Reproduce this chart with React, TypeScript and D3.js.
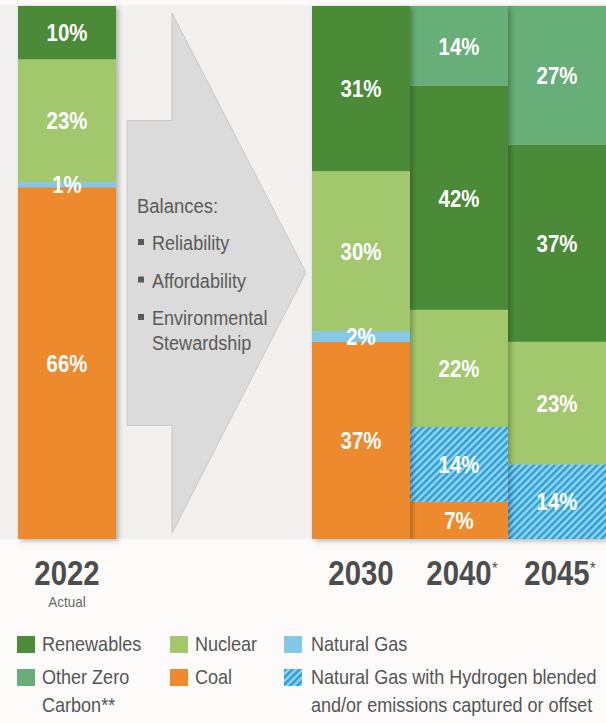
import React from "react";
import * as d3 from "d3";

// ---- data ----
const years = ["2022", "2030", "2040", "2045"];
const yearSuffix = ["", "", "*", "*"];
const coal = [66, 37, 7, 0];
const gasHydrogen = [0, 0, 14, 14];
const naturalGas = [1, 2, 0, 0];
const nuclear = [23, 30, 22, 23];
const renewables = [10, 31, 42, 37];
const otherZeroCarbon = [0, 0, 14, 27];

const arrowTitle = "Balances:";
const arrowBullets = [["Reliability"], ["Affordability"], ["Environmental", "Stewardship"]];

const keys = ["coal", "gasHydrogen", "naturalGas", "nuclear", "renewables", "otherZeroCarbon"];
const colors: Record<string, string> = {
  renewables: "#4c8b37",
  nuclear: "#a2c76d",
  naturalGas: "#84c8e8",
  otherZeroCarbon: "#68ae78",
  coal: "#ee8a2d",
  gasHydrogen: "url(#hatch)",
};

const legendRows = [
  [
    { key: "renewables", lines: ["Renewables"] },
    { key: "nuclear", lines: ["Nuclear"] },
    { key: "naturalGas", lines: ["Natural Gas"] },
  ],
  [
    { key: "otherZeroCarbon", lines: ["Other Zero", "Carbon**"] },
    { key: "coal", lines: ["Coal"] },
    { key: "gasHydrogen", lines: ["Natural Gas with Hydrogen blended", "and/or emissions captured or offset"] },
  ],
];

const W = 606;
const H = 723;
const font = "'Liberation Sans', Arial, sans-serif";

// condensed text: Liberation Sans squeezed horizontally
function CText(props: {
  x: number;
  y: number;
  sx: number;
  size: number;
  bold?: boolean;
  anchor?: string;
  fill?: string;
  dy?: string;
  children: React.ReactNode;
}) {
  const { x, y, sx, size, bold, anchor, fill, dy, children } = props;
  return (
    <g transform={`translate(${x},${y}) scale(${sx},1)`}>
      <text
        x={0}
        y={0}
        dy={dy}
        fontFamily={font}
        fontSize={size}
        fontWeight={bold ? "bold" : "normal"}
        textAnchor={anchor || "start"}
        fill={fill}
      >
        {children}
      </text>
    </g>
  );
}

export default function App() {
  const table = years.map((yr, i) => ({
    year: yr,
    coal: coal[i],
    gasHydrogen: gasHydrogen[i],
    naturalGas: naturalGas[i],
    nuclear: nuclear[i],
    renewables: renewables[i],
    otherZeroCarbon: otherZeroCarbon[i],
  }));
  const series = d3.stack<any>().keys(keys)(table);

  const x = d3
    .scaleBand<string>()
    .domain(["2022", "gapA", "gapB", "2030", "2040", "2045"])
    .range([18, W])
    .padding(0);
  const y = d3.scaleLinear().domain([0, 100]).range([539, 6]);

  const bars = years.map((yr, i) => {
    const segs = series
      .map((s) => ({ key: s.key, v0: s[i][0], v1: s[i][1], value: (table[i] as any)[s.key] }))
      .filter((d) => d.value > 0);
    const last = segs.length - 1;
    return {
      year: yr,
      i,
      segs: segs.map((d, j) => ({ ...d, top: j === last ? 100 : Math.min(d.v1, 100) })),
    };
  });

  const bw = x.bandwidth();
  const arrowLeft = (x("2022") as number) + bw + 11;
  const arrowNeck = arrowLeft + 45;
  const arrowTip = (x("2030") as number) - 6;
  const midY = (y(100) + y(0)) / 2;
  const arrowPts: [number, number][] = [
    [arrowLeft, midY - 152],
    [arrowNeck, midY - 152],
    [arrowNeck, y(100) + 7],
    [arrowTip, midY],
    [arrowNeck, y(0) - 6],
    [arrowNeck, midY + 153],
    [arrowLeft, midY + 153],
  ];

  const legendCols = [17, 170, 284];
  const legendRowY = [636, 669];

  return (
    <svg
      width={W}
      height={H}
      style={{ position: "absolute", left: 0, top: 0, display: "block" }}
      xmlns="http://www.w3.org/2000/svg"
    >
      <defs>
        <pattern id="hatch" width="5" height="5" patternUnits="userSpaceOnUse" patternTransform="rotate(45)">
          <rect width="5" height="5" fill="#95d4f0" />
          <rect width="2.5" height="5" fill="#2a9fd6" />
        </pattern>
        <filter id="shadow" x="-10%" y="-5%" width="130%" height="115%">
          <feDropShadow dx="2.5" dy="2" stdDeviation="2.5" floodColor="#000" floodOpacity="0.28" />
        </filter>
      </defs>
      <rect width={W} height={H} fill="#fcfbfa" />
      <rect x={0} y={5} width={W} height={y(0) - 5} fill="#f2f1f0" />

      {/* arrow */}
      <polygon
        points={arrowPts.map((p) => p.join(",")).join(" ")}
        fill="#dcdbdb"
        stroke="#c9c8c8"
        strokeWidth={1}
      />
      <CText x={arrowLeft + 10} y={213} sx={0.88} size={21} fill="#5a5a5a">
        {arrowTitle}
      </CText>
      {arrowBullets.map((lines, k) => (
        <g key={k}>
          <rect x={arrowLeft + 11} y={250 + k * 37.5 - 11} width={6} height={6} fill="#5a5a5a" />
          {lines.map((ln, m) => (
            <CText key={m} x={arrowLeft + 25} y={250 + k * 37.5 + m * 25} sx={0.86} size={21} fill="#5a5a5a">
              {ln}
            </CText>
          ))}
        </g>
      ))}

      {/* bars, drawn right to left so shadows fall on neighbours */}
      {[...bars].reverse().map((b) => {
        const bx = x(b.year) as number;
        return (
          <g key={b.year} filter="url(#shadow)">
            {b.segs.map((s) => (
              <rect
                key={s.key}
                x={bx}
                y={y(s.top)}
                width={bw}
                height={y(s.v0) - y(s.top)}
                fill={colors[s.key]}
              />
            ))}
          </g>
        );
      })}
      {bars.map((b) => {
        const cx = (x(b.year) as number) + bw / 2;
        return (
          <g key={"l" + b.year}>
            {b.segs.map((s) => (
              <CText
                key={s.key}
                x={cx}
                y={(y(s.v0) + y(s.top)) / 2}
                dy="0.36em"
                sx={0.85}
                size={24}
                bold
                anchor="middle"
                fill="#fff"
              >
                {s.value}%
              </CText>
            ))}
          </g>
        );
      })}

      {/* year labels */}
      {years.map((yr, i) => {
        const cx = (x(yr) as number) + bw / 2;
        return (
          <g key={"y" + yr}>
            <CText x={cx} y={585} sx={0.84} size={35} bold anchor="middle" fill="#4d4d4d">
              {yr}
            </CText>
            {yearSuffix[i] && (
              <CText x={cx + 33} y={574} sx={0.9} size={16} fill="#4d4d4d">
                {yearSuffix[i]}
              </CText>
            )}
            {i === 0 && (
              <CText x={cx} y={607} sx={0.9} size={15} anchor="middle" fill="#6a6a6a">
                Actual
              </CText>
            )}
          </g>
        );
      })}

      {/* legend */}
      {legendRows.map((row, r) =>
        row.map((item, c) => (
          <g key={item.key} transform={`translate(${legendCols[c]},${legendRowY[r]})`}>
            <rect width={18} height={17} fill={colors[item.key]} />
            {item.lines.map((ln, m) => (
              <CText key={m} x={item.key === "naturalGas" || item.key === "gasHydrogen" ? 27 : 25} y={15 + m * 28} sx={0.88} size={20.5} fill="#555555">
                {ln}
              </CText>
            ))}
          </g>
        ))
      )}
    </svg>
  );
}
